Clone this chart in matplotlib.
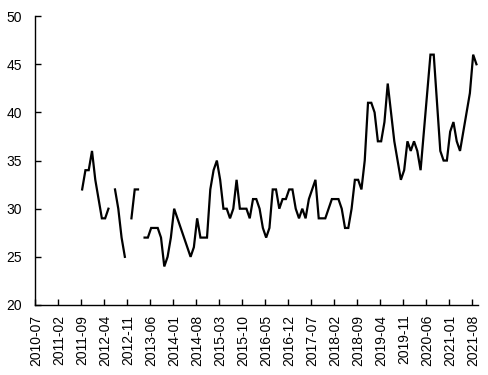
import matplotlib
matplotlib.use("Agg")
import matplotlib.pyplot as plt
import numpy as np

plt.rcParams['font.family'] = ['Liberation Sans', 'DejaVu Sans']

# 月度数据，2010-07 起，空值为 None（图中断开）
start_year, start_month = 2010, 7
values = [None] * 14 + [
    32, 34, 34, 36, 33, 31, 29, 29, 30,          # 2011-09 .. 2012-05
    None,
    32, 30, 27, 25,                              # 2012-07 .. 2012-10
    None,
    29, 32, 32,                                  # 2012-12 .. 2013-02
    None,
    27, 27, 28, 28, 28, 27, 24, 25, 27, 30,      # 2013-04 ..
    29, 28, 27, 26, 25, 26, 29, 27, 27, 27,
    32, 34, 35, 33, 30, 30, 29, 30, 33, 30,
    30, 30, 29, 31, 31, 30, 28, 27, 28, 32,
    32, 30, 31, 31, 32, 32, 30, 29, 30, 29,
    31, 32, 33, 29, 29, 29, 30, 31, 31, 31,
    30, 28, 28, 30, 33, 33, 32, 35, 41, 41,
    40, 37, 37, 39, 43, 40, 37, 35, 33, 34,
    37, 36, 37, 36, 34, 38, 42, 46, 46, 41,
    36, 35, 35, 38, 39, 37, 36, 38, 40, 42,
    46, 45,
]

months = []
for i in range(len(values)):
    y = start_year + (start_month - 1 + i) // 12
    m = (start_month - 1 + i) % 12 + 1
    months.append(f"{y}-{m:02d}")

y_vals = np.array([np.nan if v is None else v for v in values], dtype=float)
x = np.arange(len(y_vals))

fig = plt.figure(figsize=(4.88, 3.75), dpi=100)
ax = fig.add_axes([0.0707, 0.1867, 0.909, 0.7703])
ax.plot(x, y_vals, color='black', linewidth=1.6, solid_joinstyle='miter')

ax.set_ylim(20, 50)
ax.set_yticks(range(20, 51, 5))
ax.set_xlim(-0.5, len(y_vals) - 0.5)

# 刻度线在类别边界，标签在类别中心
lab_idx = list(range(0, len(y_vals), 7))
ax.set_xticks([i - 0.5 for i in lab_idx])
ax.set_xticklabels([])
ax.set_xticks(lab_idx, minor=True)
ax.set_xticklabels([months[i] for i in lab_idx], minor=True, rotation=90, fontsize=10)
ax.tick_params(axis='x', which='major', direction='in', length=4, width=1)
ax.tick_params(axis='x', which='minor', length=0, pad=7)
ax.tick_params(axis='y', direction='in', length=4, width=1, labelsize=10, pad=9)

ax.spines['top'].set_color("none")
ax.spines['right'].set_color("none")
for s in ['left', 'bottom']:
    ax.spines[s].set_linewidth(1)

fig.savefig("out.png", dpi=100)
